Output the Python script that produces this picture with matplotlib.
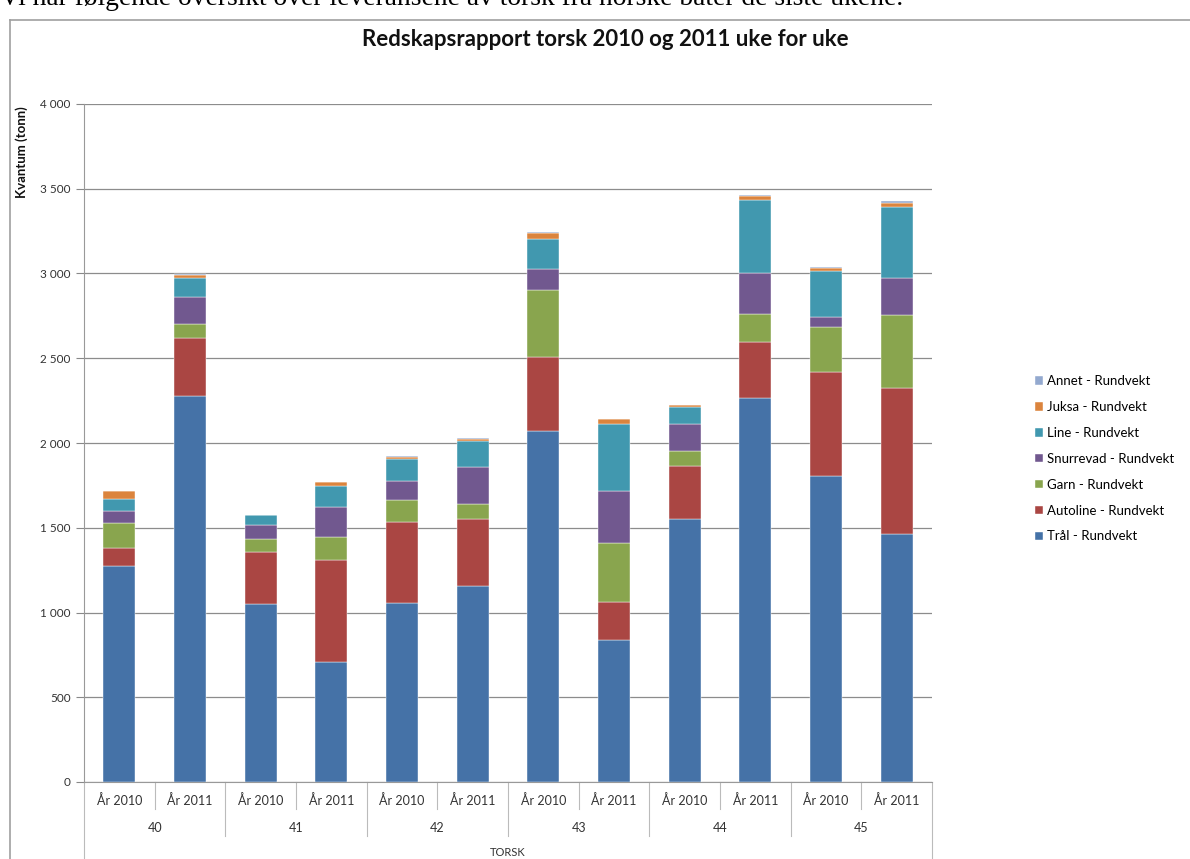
import numpy as np
import matplotlib
matplotlib.use('Agg')
import matplotlib.pyplot as plt
from matplotlib.ticker import FuncFormatter
from matplotlib.lines import Line2D

# data (tonn), leses av figuren
uker = ['40', '41', '42', '43', '44', '45']
aar = ['År 2010', 'År 2011']
serier = ['Trål - Rundvekt', 'Autoline - Rundvekt', 'Garn - Rundvekt',
          'Snurrevad - Rundvekt', 'Line - Rundvekt', 'Juksa - Rundvekt', 'Annet - Rundvekt']
farger = ['#4572A7', '#AA4643', '#89A54E', '#71588F', '#4198AF', '#DB843D', '#93A9CF']

tral      = [1276, 2278, 1048, 708, 1056, 1158, 2071, 838, 1552, 2265, 1806, 1465]
autoline  = [106, 341, 310, 602, 476, 395, 435, 224, 314, 332, 614, 857]
garn      = [146, 81, 76, 135, 132, 87, 394, 350, 87, 164, 264, 431]
snurrevad = [73, 161, 84, 176, 112, 220, 124, 305, 157, 242, 61, 222]
line      = [69, 114, 55, 125, 130, 152, 181, 393, 101, 432, 270, 417]
juksa     = [49, 16, 2, 24, 13, 12, 33, 29, 11, 20, 18, 24]
annet     = [0, 6, 0, 0, 3, 6, 7, 3, 5, 6, 5, 10]

data = [tral, autoline, garn, snurrevad, line, juksa, annet]

plt.rcParams['font.family'] = ['Lato', 'DejaVu Sans']

W, H = 1190, 859
fig = plt.figure(figsize=(W / 100, H / 100), dpi=100)

def fx(px):
    return px / W

def fy(py):
    return 1 - py / H

ax = fig.add_axes([fx(84), fy(782), fx(932) - fx(84), fy(104) - fy(782)])

x = np.arange(len(tral))
bunn = np.zeros(len(x))
for navn, vals, c in zip(serier, data, farger):
    ax.bar(x, vals, 0.45, bottom=bunn, color=c, label=navn,
           edgecolor='white', linewidth=0.3, zorder=3)
    bunn += np.array(vals)

ax.set_xlim(-0.5, len(x) - 0.5)
ax.set_ylim(0, 4000)
ax.set_yticks(np.arange(0, 4001, 500))
ax.yaxis.set_major_formatter(FuncFormatter(lambda v, p: '{:,}'.format(int(v)).replace(',', ' ')))
ax.tick_params(axis='y', labelsize=8.5, colors='#888888', labelcolor='#333333', length=6, width=0.8)
ax.set_xticks([])
ax.grid(axis='y', color='#8c8c8c', linewidth=0.9, zorder=0)
for s in ['top', 'right']:
    ax.spines[s].set_visible(False)
ax.spines['left'].set_color('#999999')
ax.spines['bottom'].set_color('#999999')

# kategori-akse med to nivåer
for i in range(len(x)):
    ax.text(i, -110, aar[i % 2], ha='center', va='center', fontsize=9, color='#333333', clip_on=False)
for g, u in enumerate(uker):
    ax.text(2 * g + 0.5, -270, u, ha='center', va='center', fontsize=9, color='#333333', clip_on=False)
ax.text(5.5, -415, 'TORSK', ha='center', va='center', fontsize=8, color='#333333', clip_on=False)

trans = ax.get_xaxis_transform()
for i in range(1, len(x)):
    dybde = -0.08 if i % 2 == 0 else -0.04
    ax.add_line(Line2D([i - 0.5, i - 0.5], [0, dybde], transform=trans, color='#bbbbbb',
                       linewidth=0.8, clip_on=False))
for kant in [-0.5, len(x) - 0.5]:
    ax.add_line(Line2D([kant, kant], [0, -0.15], transform=trans, color='#bbbbbb',
                       linewidth=0.8, clip_on=False))

fig.text(fx(22), fy(152), 'Kvantum (tonn)', rotation=90, ha='center', va='center',
         fontsize=9.5, fontweight='bold', color='#111111')

fig.text(fx(605), fy(40), 'Redskapsrapport torsk 2010 og 2011 uke for uke', ha='center', va='center',
         fontsize=16, fontweight='bold', color='#111111')

# tekst fra dokumentet over figuren, delvis avskaaret
fig.text(0.0, fy(5), 'Vi har følgende oversikt over leveransene av torsk fra norske båter de siste ukene.',
         ha='left', va='baseline', fontsize=19.8, family=['Liberation Serif', 'DejaVu Serif'])

# ramme rundt diagramomraadet
fig.add_artist(Line2D([fx(10), fx(10)], [0, fy(20)], color='#a0a0a0', linewidth=1.2))
fig.add_artist(Line2D([fx(10), 1], [fy(20), fy(20)], color='#a0a0a0', linewidth=1.2))

h, l = ax.get_legend_handles_labels()
fig.legend(h[::-1], l[::-1], loc='upper left', bbox_to_anchor=(fx(1030), fy(370)),
           frameon=False, fontsize=9.5, handlelength=0.6, handleheight=0.6,
           labelspacing=1.05, handletextpad=0.3, borderaxespad=0)

fig.savefig('out.png', dpi=100)
